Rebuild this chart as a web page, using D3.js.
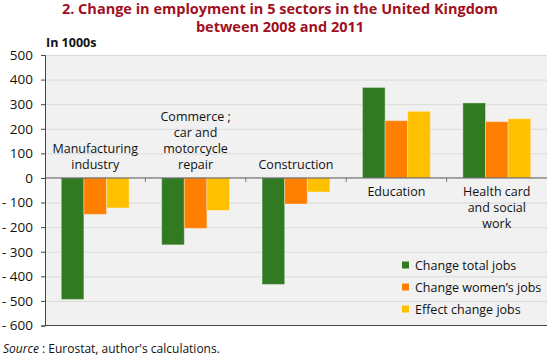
<!DOCTYPE html>
<html><head><meta charset="utf-8">
<script src="https://cdn.jsdelivr.net/npm/d3@7"></script>
<style>
body{margin:0;background:#fff;}
svg text{font-family:"Open Sans","Noto Sans",sans-serif;}
</style></head>
<body><svg id="c" width="550" height="357"></svg>
<script>
const categories = [["Manufacturing","industry"],["Commerce ;","car and","motorcycle","repair"],["Construction"],["Education"],["Health card","and social","work"]];
const seriesNames = ["Change total jobs","Change women’s jobs","Effect change jobs"];
const totalJobs = [-494,-272,-433,368,305];
const womenJobs = [-148,-205,-106,233,229];
const effectJobs = [-122,-132,-57,271,241];
const colors = ["#317a22","#ff7f00","#ffc000"];
const yTicks = [500,400,300,200,100,0,-100,-200,-300,-400,-500,-600];

const svg = d3.select("#c");
const L=45,R=547,T=55,B=325.5;
const x = d3.scaleBand().domain(d3.range(categories.length)).range([L,R]).paddingInner(0).paddingOuter(0);
const xs = d3.scaleBand().domain(d3.range(3)).range([0,x.bandwidth()]).paddingInner(0).paddingOuter(0.72);
const y = d3.scaleLinear().domain([-600,500]).range([B,T]);

svg.append("rect").attr("x",L).attr("y",T).attr("width",R-L).attr("height",B-T).attr("fill","#f1f1f1");
svg.append("g").selectAll("line").data(yTicks.filter(d=>d!==0&&d!==-600)).join("line")
 .attr("x1",L).attr("x2",R).attr("y1",d=>y(d)+0.5).attr("y2",d=>y(d)+0.5).attr("stroke","#dadada");

const data=[totalJobs,womenJobs,effectJobs];
data.forEach((arr,s)=>{
 svg.append("g").selectAll("rect").data(arr).join("rect")
  .attr("x",(d,i)=>x(i)+xs(s)).attr("width",xs.bandwidth())
  .attr("y",d=>y(Math.max(0,d))).attr("height",d=>Math.abs(y(d)-y(0)))
  .attr("fill",colors[s]).attr("stroke","rgba(255,255,255,0.35)").attr("stroke-width",1);
});

// zero line
svg.append("line").attr("x1",L).attr("x2",R).attr("y1",y(0)).attr("y2",y(0)).attr("stroke","#555").attr("stroke-width",1);
// category ticks on zero line
svg.append("g").selectAll("line").data(d3.range(1,categories.length)).join("line")
 .attr("x1",d=>x(d)).attr("x2",d=>x(d)).attr("y1",y(0)).attr("y2",y(0)+4).attr("stroke","#777");

// y axis
const yAxis = d3.axisLeft(y).tickValues(yTicks).tickSize(4).tickFormat(d=>d<0?"- "+Math.abs(d):d);
const ga = svg.append("g").attr("transform",`translate(${L},0)`).call(yAxis);
ga.select(".domain").attr("stroke","#444");
ga.selectAll(".tick line").attr("stroke","#444");
ga.selectAll("text").attr("font-size",13.5).attr("fill","#111").attr("x",-12);
// bottom axis line
svg.append("line").attr("x1",L).attr("x2",R).attr("y1",B).attr("y2",B).attr("stroke","#444");

// category labels
categories.forEach((lines,i)=>{
 const neg = totalJobs[i]<0;
 const lh=16;
 const cx = x(i)+x.bandwidth()/2;
 const t = svg.append("text").attr("text-anchor","middle").attr("font-size",12.5).attr("fill","#111");
 lines.forEach((ln,j)=>{
  const yy = neg ? y(0)-9-(lines.length-1-j)*lh : y(0)+18+j*lh;
  t.append("tspan").attr("x",cx).attr("y",yy).text(ln);
 });
});

// title
const title = svg.append("text").attr("text-anchor","middle").attr("font-size",14.5).attr("font-weight","bold").attr("fill","#a0101e");
title.append("tspan").attr("x",280).attr("y",14).text("2. Change in employment in 5 sectors in the United Kingdom");
title.append("tspan").attr("x",280).attr("y",32).text("between 2008 and 2011");
svg.append("text").attr("x",46).attr("y",47).attr("font-size",12.5).attr("font-weight","bold").attr("fill","#111").text("In 1000s");

// legend
seriesNames.forEach((n,i)=>{
 const ly = 265 + i*22;
 svg.append("rect").attr("x",402).attr("y",ly-3.5).attr("width",7).attr("height",7).attr("fill",colors[i]);
 svg.append("text").attr("x",415).attr("y",ly+4.5).attr("font-size",12.5).attr("fill","#111").text(n);
});

// source
const src = svg.append("text").attr("x",3).attr("y",353).attr("font-size",12).attr("fill","#111");
src.append("tspan").attr("font-style","italic").text("Source");
src.append("tspan").text(" : Eurostat, author's calculations.");
</script></body></html>
